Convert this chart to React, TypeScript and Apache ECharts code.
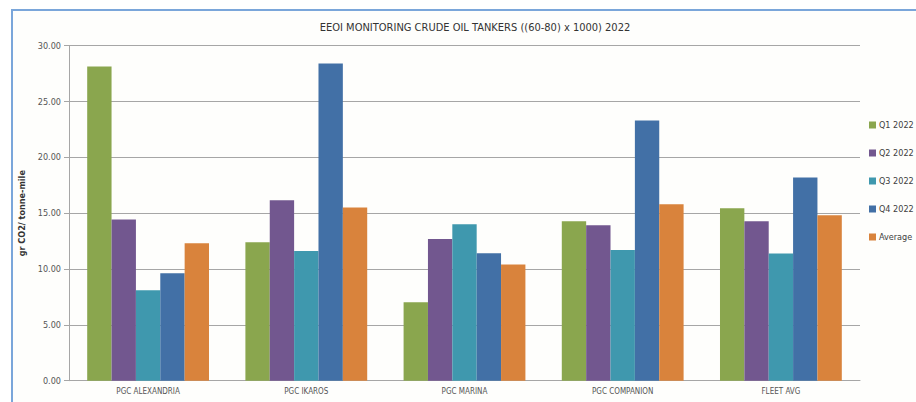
import React, { useEffect, useRef } from "react";
import * as echarts from "echarts";

const categories = ["PGC ALEXANDRIA", "PGC IKAROS", "PGC MARINA", "PGC COMPANION", "FLEET AVG"];
const seriesNames = ["Q1 2022", "Q2 2022", "Q3 2022", "Q4 2022", "Average"];
const q1 = [28.13, 12.4, 7.03, 14.28, 15.45];
const q2 = [14.43, 16.16, 12.7, 13.92, 14.28];
const q3 = [8.1, 11.62, 14.01, 11.71, 11.38];
const q4 = [9.62, 28.41, 11.42, 23.3, 18.19];
const avg = [12.31, 15.5, 10.4, 15.81, 14.82];
const colors = ["#8aa64e", "#72578f", "#3f98ae", "#4270a6", "#d9833c"];
const titleText = "EEOI MONITORING CRUDE OIL TANKERS ((60-80) x 1000) 2022";
const yAxisTitle = "gr CO2/ tonne-mile";

const FONT = "'DejaVu Sans Condensed', 'Liberation Sans Narrow', Arial, sans-serif";

export default function App() {
  const ref = useRef<HTMLDivElement>(null);
  useEffect(() => {
    if (!ref.current) return;
    const chart = echarts.init(ref.current, undefined, { renderer: "svg" });
    const values = [q1, q2, q3, q4, avg];
    chart.setOption({
      animation: false,
      backgroundColor: "#ffffff",
      textStyle: { fontFamily: FONT },
      title: {
        text: titleText,
        left: 470,
        top: 17,
        textAlign: "center",
        textStyle: { fontSize: 11, fontWeight: "normal", color: "#333333", fontFamily: FONT },
      },
      graphic: [
        { type: "rect", shape: { x: 12, y: 10, width: 910, height: 400 }, style: { fill: "#fefefc", stroke: "#7aa6da", lineWidth: 2 }, z: -10 },
      ],
      legend: {
        orient: "vertical",
        left: 864,
        top: 115,
        itemWidth: 7,
        itemHeight: 7,
        itemGap: 18,
        icon: "rect",
        textStyle: { fontSize: 9, color: "#404040", fontFamily: FONT, lineHeight: 10, padding: [0, 0, 0, -2] },
        data: seriesNames,
      },
      grid: { left: 69, right: 56, top: 45.7, bottom: 21.3, containLabel: false },
      xAxis: {
        type: "category",
        data: categories,
        axisLine: { lineStyle: { color: "#a6a6a6", width: 1 } },
        axisTick: { show: false },
        axisLabel: { fontSize: 8, color: "#555555", margin: 7, fontFamily: FONT },
      },
      yAxis: {
        type: "value",
        min: 0,
        max: 30,
        interval: 5,
        name: yAxisTitle,
        nameLocation: "middle",
        nameGap: 35,
        nameTextStyle: { fontSize: 9, fontWeight: "bold", color: "#333333", fontFamily: FONT },
        axisLine: { show: true, lineStyle: { color: "#a6a6a6" } },
        axisTick: { show: true, length: 5, lineStyle: { color: "#a6a6a6" } },
        axisLabel: { fontSize: 9, color: "#555555", margin: 8, formatter: (v: number) => v.toFixed(2), fontFamily: FONT },
        splitLine: { lineStyle: { color: "#a6a6a6", width: 1 } },
      },
      series: seriesNames.map((name, i) => ({
        name,
        type: "bar",
        data: values[i],
        barGap: "0%",
        barCategoryGap: "23%",
        itemStyle: { color: colors[i] },
      })),
    });
    return () => chart.dispose();
  }, []);
  return <div ref={ref} style={{ position: "fixed", left: 0, top: 0, width: 916, height: 402 }} />;
}
